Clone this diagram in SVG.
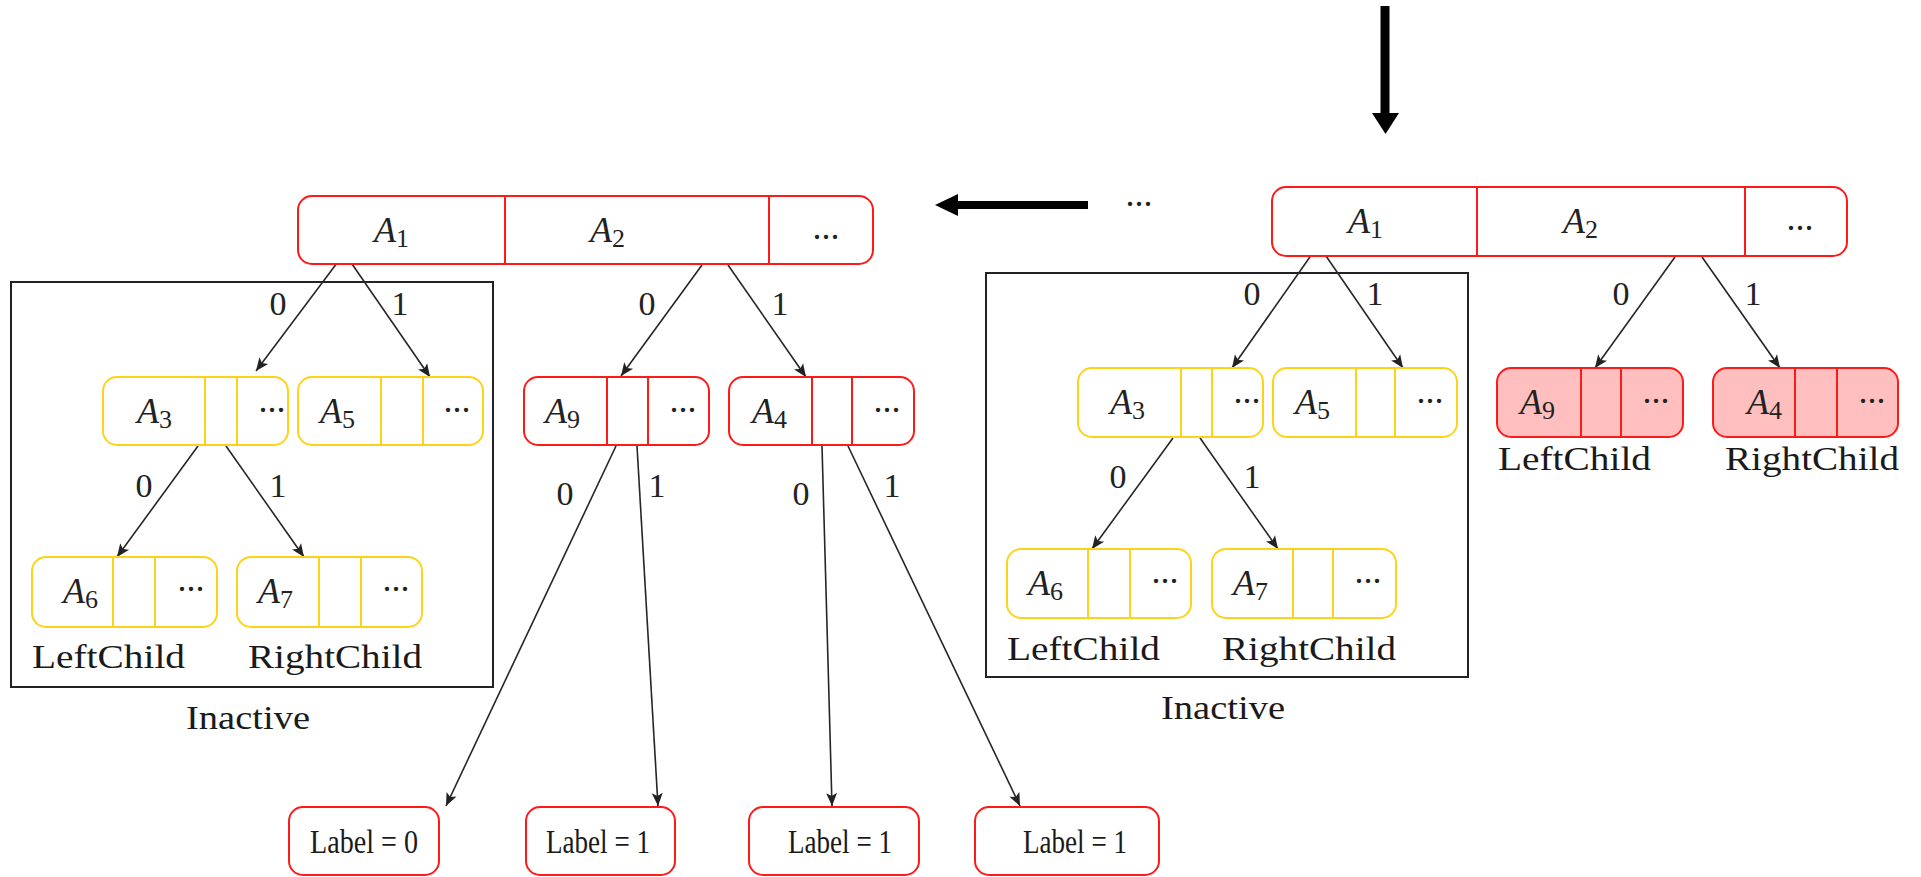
<svg xmlns="http://www.w3.org/2000/svg" width="1921" height="877" viewBox="0 0 1921 877">
  <defs>
    <marker id="tip" markerUnits="userSpaceOnUse" markerWidth="16" markerHeight="14" viewBox="-14 -7 16 14" refX="0" refY="0" orient="auto">
      <path d="M0,0 L-13,-5.5 L-10,0 L-13,5.5 Z" fill="#222"/>
    </marker>
    <style>
      .red { fill: #fff; stroke: #ff1a1a; stroke-width: 2; }
      .redfill { fill: #ffbfbf; stroke: #ff1a1a; stroke-width: 2; }
      .yel { fill: #fff; stroke: #ffd21a; stroke-width: 2; }
      .rdiv { stroke: #ff1a1a; stroke-width: 2; }
      .ydiv { stroke: #ffd21a; stroke-width: 2; }
      .frame { fill: none; stroke: #222; stroke-width: 2; }
      .edge { stroke: #262626; stroke-width: 1.6; fill: none; marker-end: url(#tip); }
      .thick { stroke: #000; fill: none; }
      .var { font-family: "Liberation Serif", "Times New Roman", serif; font-style: italic; font-size: 36px; fill: #222; }
      .sub { font-style: normal; font-size: 26px; }
      .dots { font-family: "Liberation Serif", "Times New Roman", serif; font-size: 36px; fill: #222; text-anchor: middle; }
      .bit { font-family: "Liberation Serif", "Times New Roman", serif; font-size: 34px; fill: #222; text-anchor: middle; }
      .cap { font-family: "Liberation Serif", "Times New Roman", serif; font-size: 34px; fill: #1a1a1a; }
      .lbl { font-family: "Liberation Serif", "Times New Roman", serif; font-size: 34px; fill: #1a1a1a; text-anchor: middle; }
    </style>
  </defs>

  <!-- flow arrows between the two snapshots -->
  <g id="flow">
    <line class="thick" x1="1385" y1="6" x2="1385" y2="116" stroke-width="9"/>
    <path d="M1372,113 L1399,113 L1385.5,134 Z" fill="#000"/>
    <line class="thick" x1="1088" y1="205" x2="955" y2="205" stroke-width="8"/>
    <path d="M935,205 L958,194 L958,216 Z" fill="#000"/>
    <text class="dots" x="1139" y="206">...</text>
  </g>

  <!-- inactive sub-tree frames -->
  <g id="left-inactive">
    <rect class="frame" x="11" y="282" width="482" height="405"/>
    <text class="cap" x="186" y="729" textLength="124" lengthAdjust="spacingAndGlyphs">Inactive</text>
  </g>
  <g id="right-inactive">
    <rect class="frame" x="986" y="273" width="482" height="404"/>
    <text class="cap" x="1161" y="719" textLength="124" lengthAdjust="spacingAndGlyphs">Inactive</text>
  </g>

  <!-- connectors -->
  <g id="connectors">
    <!-- left snapshot -->
    <line class="edge" x1="337" y1="263" x2="256" y2="371"/>
    <line class="edge" x1="352" y1="264" x2="430" y2="377"/>
    <line class="edge" x1="702" y1="265" x2="621" y2="376"/>
    <line class="edge" x1="728" y1="265" x2="806" y2="377"/>
    <line class="edge" x1="198" y1="446" x2="117" y2="557"/>
    <line class="edge" x1="226" y1="446" x2="304" y2="557"/>
    <line class="edge" x1="616" y1="446" x2="446" y2="806"/>
    <line class="edge" x1="637" y1="446" x2="658" y2="806"/>
    <line class="edge" x1="822" y1="446" x2="832" y2="806"/>
    <line class="edge" x1="848" y1="446" x2="1020" y2="806"/>
    <!-- right snapshot -->
    <line class="edge" x1="1312" y1="254" x2="1232" y2="368"/>
    <line class="edge" x1="1326" y1="256" x2="1403" y2="368"/>
    <line class="edge" x1="1675" y1="257" x2="1595" y2="368"/>
    <line class="edge" x1="1702" y1="257" x2="1780" y2="368"/>
    <line class="edge" x1="1173" y1="438" x2="1092" y2="549"/>
    <line class="edge" x1="1200" y1="438" x2="1278" y2="549"/>
  </g>

  <!-- branch bits -->
  <g id="edge-labels">
    <text class="bit" x="278" y="315">0</text>
    <text class="bit" x="400" y="315">1</text>
    <text class="bit" x="647" y="315">0</text>
    <text class="bit" x="780" y="315">1</text>
    <text class="bit" x="144" y="497">0</text>
    <text class="bit" x="278" y="497">1</text>
    <text class="bit" x="565" y="505">0</text>
    <text class="bit" x="657" y="497">1</text>
    <text class="bit" x="801" y="505">0</text>
    <text class="bit" x="892" y="497">1</text>
    <text class="bit" x="1252" y="305">0</text>
    <text class="bit" x="1375" y="305">1</text>
    <text class="bit" x="1621" y="305">0</text>
    <text class="bit" x="1753" y="305">1</text>
    <text class="bit" x="1118" y="488">0</text>
    <text class="bit" x="1252" y="488">1</text>
  </g>

  <!-- left snapshot nodes -->
  <g id="L-root">
    <rect class="red" x="298" y="196" width="575" height="68" rx="14"/>
    <line class="rdiv" x1="505" y1="196" x2="505" y2="264"/>
    <line class="rdiv" x1="769" y1="196" x2="769" y2="264"/>
    <text class="var" x="374" y="242">A<tspan class="sub" dy="5">1</tspan></text>
    <text class="var" x="590" y="242">A<tspan class="sub" dy="5">2</tspan></text>
    <text class="dots" x="826" y="239">...</text>
  </g>
  <g id="L-A3">
    <rect class="yel" x="103" y="377" width="185" height="68" rx="14"/>
    <line class="ydiv" x1="205" y1="377" x2="205" y2="445"/>
    <line class="ydiv" x1="237" y1="377" x2="237" y2="445"/>
    <text class="var" x="137" y="423">A<tspan class="sub" dy="5">3</tspan></text>
    <text class="dots" x="272" y="412">...</text>
  </g>
  <g id="L-A5">
    <rect class="yel" x="298" y="377" width="185" height="68" rx="14"/>
    <line class="ydiv" x1="381" y1="377" x2="381" y2="445"/>
    <line class="ydiv" x1="423" y1="377" x2="423" y2="445"/>
    <text class="var" x="320" y="423">A<tspan class="sub" dy="5">5</tspan></text>
    <text class="dots" x="457" y="412">...</text>
  </g>
  <g id="L-A6">
    <rect class="yel" x="32" y="557" width="185" height="70" rx="14"/>
    <line class="ydiv" x1="113" y1="557" x2="113" y2="627"/>
    <line class="ydiv" x1="155" y1="557" x2="155" y2="627"/>
    <text class="var" x="63" y="603">A<tspan class="sub" dy="5">6</tspan></text>
    <text class="dots" x="191" y="591">...</text>
    <text class="cap" x="32" y="668" textLength="153" lengthAdjust="spacingAndGlyphs">LeftChild</text>
  </g>
  <g id="L-A7">
    <rect class="yel" x="237" y="557" width="185" height="70" rx="14"/>
    <line class="ydiv" x1="319" y1="557" x2="319" y2="627"/>
    <line class="ydiv" x1="361" y1="557" x2="361" y2="627"/>
    <text class="var" x="258" y="603">A<tspan class="sub" dy="5">7</tspan></text>
    <text class="dots" x="396" y="591">...</text>
    <text class="cap" x="248" y="668" textLength="174" lengthAdjust="spacingAndGlyphs">RightChild</text>
  </g>
  <g id="L-A9">
    <rect class="red" x="524" y="377" width="185" height="68" rx="14"/>
    <line class="rdiv" x1="607" y1="377" x2="607" y2="445"/>
    <line class="rdiv" x1="648" y1="377" x2="648" y2="445"/>
    <text class="var" x="545" y="423">A<tspan class="sub" dy="5">9</tspan></text>
    <text class="dots" x="683" y="412">...</text>
  </g>
  <g id="L-A4">
    <rect class="red" x="729" y="377" width="185" height="68" rx="14"/>
    <line class="rdiv" x1="812" y1="377" x2="812" y2="445"/>
    <line class="rdiv" x1="852" y1="377" x2="852" y2="445"/>
    <text class="var" x="752" y="423">A<tspan class="sub" dy="5">4</tspan></text>
    <text class="dots" x="887" y="412">...</text>
  </g>
  <g id="leaf-1">
    <rect class="red" x="289" y="807" width="150" height="68" rx="14"/>
    <text class="lbl" x="364" y="853" textLength="108" lengthAdjust="spacingAndGlyphs">Label = 0</text>
  </g>
  <g id="leaf-2">
    <rect class="red" x="526" y="807" width="149" height="68" rx="14"/>
    <text class="lbl" x="598" y="853" textLength="104" lengthAdjust="spacingAndGlyphs">Label = 1</text>
  </g>
  <g id="leaf-3">
    <rect class="red" x="749" y="807" width="170" height="68" rx="14"/>
    <text class="lbl" x="840" y="853" textLength="104" lengthAdjust="spacingAndGlyphs">Label = 1</text>
  </g>
  <g id="leaf-4">
    <rect class="red" x="975" y="807" width="184" height="68" rx="14"/>
    <text class="lbl" x="1075" y="853" textLength="104" lengthAdjust="spacingAndGlyphs">Label = 1</text>
  </g>

  <!-- right snapshot nodes -->
  <g id="R-root">
    <rect class="red" x="1272" y="187" width="575" height="69" rx="14"/>
    <line class="rdiv" x1="1477" y1="187" x2="1477" y2="256"/>
    <line class="rdiv" x1="1745" y1="187" x2="1745" y2="256"/>
    <text class="var" x="1348" y="233">A<tspan class="sub" dy="5">1</tspan></text>
    <text class="var" x="1563" y="233">A<tspan class="sub" dy="5">2</tspan></text>
    <text class="dots" x="1800" y="230">...</text>
  </g>
  <g id="R-A3">
    <rect class="yel" x="1078" y="368" width="185" height="69" rx="14"/>
    <line class="ydiv" x1="1181" y1="368" x2="1181" y2="437"/>
    <line class="ydiv" x1="1212" y1="368" x2="1212" y2="437"/>
    <text class="var" x="1110" y="414">A<tspan class="sub" dy="5">3</tspan></text>
    <text class="dots" x="1247" y="403">...</text>
  </g>
  <g id="R-A5">
    <rect class="yel" x="1273" y="368" width="184" height="69" rx="14"/>
    <line class="ydiv" x1="1356" y1="368" x2="1356" y2="437"/>
    <line class="ydiv" x1="1395" y1="368" x2="1395" y2="437"/>
    <text class="var" x="1295" y="414">A<tspan class="sub" dy="5">5</tspan></text>
    <text class="dots" x="1430" y="403">...</text>
  </g>
  <g id="R-A6">
    <rect class="yel" x="1007" y="549" width="184" height="69" rx="14"/>
    <line class="ydiv" x1="1088" y1="549" x2="1088" y2="618"/>
    <line class="ydiv" x1="1130" y1="549" x2="1130" y2="618"/>
    <text class="var" x="1028" y="595">A<tspan class="sub" dy="5">6</tspan></text>
    <text class="dots" x="1165" y="583">...</text>
    <text class="cap" x="1007" y="660" textLength="153" lengthAdjust="spacingAndGlyphs">LeftChild</text>
  </g>
  <g id="R-A7">
    <rect class="yel" x="1212" y="549" width="184" height="69" rx="14"/>
    <line class="ydiv" x1="1293" y1="549" x2="1293" y2="618"/>
    <line class="ydiv" x1="1333" y1="549" x2="1333" y2="618"/>
    <text class="var" x="1233" y="595">A<tspan class="sub" dy="5">7</tspan></text>
    <text class="dots" x="1368" y="583">...</text>
    <text class="cap" x="1222" y="660" textLength="174" lengthAdjust="spacingAndGlyphs">RightChild</text>
  </g>
  <g id="R-A9">
    <rect class="redfill" x="1497" y="368" width="186" height="69" rx="14"/>
    <line class="rdiv" x1="1581" y1="368" x2="1581" y2="437"/>
    <line class="rdiv" x1="1621" y1="368" x2="1621" y2="437"/>
    <text class="var" x="1520" y="414">A<tspan class="sub" dy="5">9</tspan></text>
    <text class="dots" x="1656" y="403">...</text>
    <text class="cap" x="1498" y="470" textLength="153" lengthAdjust="spacingAndGlyphs">LeftChild</text>
  </g>
  <g id="R-A4">
    <rect class="redfill" x="1713" y="368" width="185" height="69" rx="14"/>
    <line class="rdiv" x1="1795" y1="368" x2="1795" y2="437"/>
    <line class="rdiv" x1="1837" y1="368" x2="1837" y2="437"/>
    <text class="var" x="1747" y="414">A<tspan class="sub" dy="5">4</tspan></text>
    <text class="dots" x="1872" y="403">...</text>
    <text class="cap" x="1725" y="470" textLength="174" lengthAdjust="spacingAndGlyphs">RightChild</text>
  </g>
</svg>
